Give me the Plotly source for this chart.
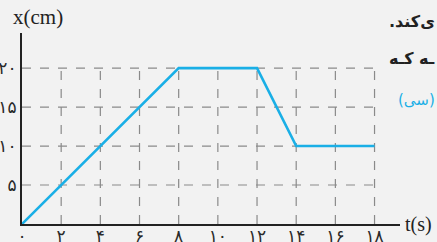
import plotly.graph_objects as go

# data
t_vals = [0, 8, 12, 14, 18]
x_vals = [0, 20, 20, 10, 10]
x_ticks = [0, 2, 4, 6, 8, 10, 12, 14, 16, 18]
x_tick_labels = ["۰", "۲", "۴", "۶", "۸", "۱۰", "۱۲", "۱۴", "۱۶", "۱۸"]
y_ticks = [5, 10, 15, 20]
y_tick_labels = ["۵", "۱۰", "۱۵", "۲۰"]

fig = go.Figure()
fig.add_trace(go.Scatter(x=t_vals, y=x_vals, mode="lines",
                         line=dict(color="#1aafe6", width=2.6), hoverinfo="skip"))

grid_style = dict(color="#8a8a8a", width=1.2, dash="dash")
shapes = []
for tv in x_ticks[1:]:
    shapes.append(dict(type="line", xref="x", yref="y", x0=tv, x1=tv, y0=0, y1=max(y_ticks),
                       line=grid_style, layer="below"))
for yv in y_ticks:
    shapes.append(dict(type="line", xref="x", yref="y", x0=0, x1=max(x_ticks), y0=yv, y1=yv,
                       line=grid_style, layer="below"))

tick_font = dict(family="DejaVu Sans", size=17, color="#2a2a2a")

fig.update_layout(
    width=437, height=242,
    margin=dict(l=22, r=37, t=33, b=18, autoexpand=False),
    paper_bgcolor="#f2f2f2", plot_bgcolor="#f2f2f2",
    showlegend=False,
    shapes=shapes,
    xaxis=dict(range=[0, 19.3], tickvals=x_ticks, ticktext=x_tick_labels,
               showgrid=False, zeroline=False, showline=True, linecolor="#222",
               linewidth=2, ticks="", ticklen=0, automargin=False,
               ticklabelstandoff=-4, tickfont=tick_font),
    yaxis=dict(range=[0, 24.5], tickvals=y_ticks, ticktext=y_tick_labels,
               showgrid=False, zeroline=False, showline=True, linecolor="#222",
               linewidth=2, ticks="", ticklen=0, automargin=False,
               tickfont=tick_font),
    annotations=[
        dict(text="x(cm)", xref="paper", yref="paper", x=-0.03, y=1.0, xanchor="left",
             yanchor="bottom", yshift=2, showarrow=False,
             font=dict(family="Liberation Serif", size=21, color="#222")),
        dict(text="t(s)", xref="paper", yref="paper", x=1.0, y=0.0, xanchor="left",
             yanchor="middle", xshift=3, showarrow=False,
             font=dict(family="Liberation Serif", size=20, color="#222")),
        dict(text="<b>.ی‌کند</b>", xref="paper", yref="paper", x=1.098, y=1.058,
             xanchor="right", yanchor="middle", showarrow=False,
             font=dict(family="DejaVu Sans", size=16, color="#222")),
        dict(text="<b>ـه کـه</b>", xref="paper", yref="paper", x=1.098, y=0.869,
             xanchor="right", yanchor="middle", showarrow=False,
             font=dict(family="DejaVu Sans", size=16, color="#222")),
        dict(text="(سی)", xref="paper", yref="paper", x=1.098, y=0.649,
             xanchor="right", yanchor="middle", showarrow=False,
             font=dict(family="DejaVu Sans", size=15, color="#1aafe6")),
    ],
)

fig.write_html("out.html", config={"displayModeBar": False},
               post_script="document.body.style.margin='0';document.body.style.overflow='hidden';")
